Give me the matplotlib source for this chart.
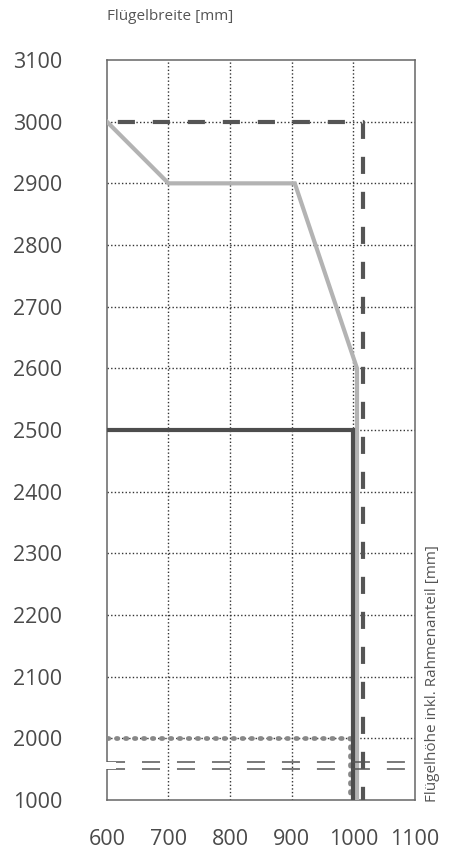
import matplotlib.pyplot as plt
from matplotlib.patches import Rectangle

# values in mm; everything below 2000 is squeezed into one step down to 1000
x_ticks = [600, 700, 800, 900, 1000, 1100]
y_ticks = [1000, 2000, 2100, 2200, 2300, 2400, 2500, 2600, 2700, 2800, 2900, 3000, 3100]

dashed_x = [600, 1015, 1015]
dashed_y = [3000, 3000, 1000]

grey_x = [600, 700, 905, 1006, 1006]
grey_y = [3000, 2900, 2900, 2600, 1000]

solid_x = [600, 1000, 1000]
solid_y = [2500, 2500, 1000]

dotted_x = [600, 995, 995]
dotted_y = [2000, 2000, 1000]


def ypos(v):
    # 1000 is drawn one step below 2000 (axis break)
    return v if v >= 2000 else 1900 + (v - 1000) / 10.0


def yp(vals):
    return [ypos(v) for v in vals]


txt = '#4a4a4a'
font = 'Open Sans'

fig = plt.figure(figsize=(4.51, 8.5), dpi=100)
ax = fig.add_axes([0.237, 0.0588, 0.683, 0.8706])
ax.set_xlim(600, 1100)
ax.set_ylim(1900, 3100)

# dotted grid
for x in x_ticks[1:-1]:
    ax.plot([x, x], [1900, 3100], color='#333333', lw=1.0, ls=(0, (1, 1.6)), zorder=1)
for y in y_ticks[1:-1]:
    ax.plot([600, 1100], [y, y], color='#333333', lw=1.0, ls=(0, (1, 1.6)), zorder=1)

ax.plot(dotted_x, yp(dotted_y), color='#888888', lw=3.4, ls=(0, (0.3, 1.6)),
        dash_capstyle='round', zorder=3)
ax.plot(grey_x, yp(grey_y), color='#b3b3b3', lw=3.0, zorder=3, solid_joinstyle='miter')
ax.plot(solid_x, yp(solid_y), color='#4d4d4d', lw=3.0, zorder=4, solid_joinstyle='miter')
ax.plot(dashed_x, yp(dashed_y), color='#555555', lw=3.0, ls=(5.8, (4.1, 4.3)), zorder=4)

# axis break marks
ax.add_patch(Rectangle((585, 1950), 30, 11, facecolor='white', edgecolor='none',
                       zorder=6, clip_on=False))
for yb in (1950, 1961):
    ax.plot([600, 1084], [yb, yb], color='#555555', lw=1.1, ls=(0, (11.8, 11.1)),
            zorder=5, clip_on=False)

for s in ax.spines.values():
    s.set_color('#666666')
    s.set_linewidth(1.1)

ax.set_xticks(x_ticks)
ax.set_xticklabels([str(v) for v in x_ticks])
ax.set_yticks(yp(y_ticks))
ax.set_yticklabels([str(v) for v in y_ticks])
ax.tick_params(length=0, labelsize=15.5, labelcolor=txt)
ax.tick_params(axis='y', pad=32)
ax.tick_params(axis='x', pad=21)
for lab in ax.get_xticklabels() + ax.get_yticklabels():
    lab.set_fontfamily(font)

fig.text(0.237, 0.98, 'Flügelbreite [mm]', fontsize=11, color='#555555',
         family=font, ha='left', va='center')
fig.text(0.96, 0.0565, 'Flügelhöhe inkl. Rahmenanteil [mm]', fontsize=11,
         color='#555555', family=font, rotation=90, ha='center', va='bottom')

fig.savefig('out.png', dpi=100)
